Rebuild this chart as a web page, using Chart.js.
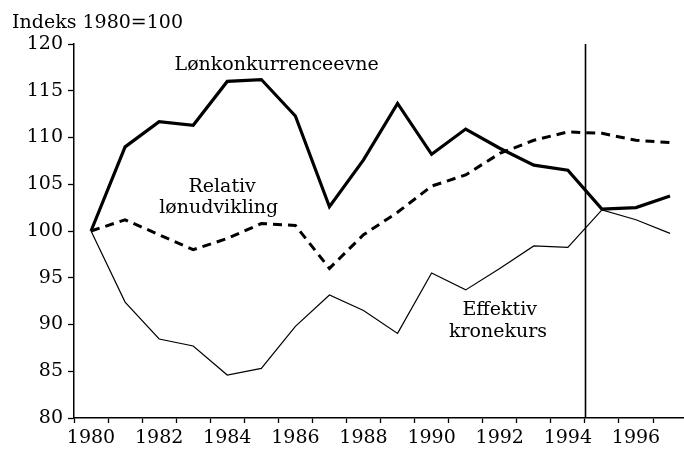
<!DOCTYPE html>
<html>
<head>
<meta charset="utf-8">
<script src="https://cdn.jsdelivr.net/npm/chart.js@4.4.1/dist/chart.umd.min.js"></script>
<style>
  html, body { margin: 0; padding: 0; background: #fff; }
  canvas { display: block; }
</style>
</head>
<body>
<canvas id="myChart" width="684" height="449"></canvas>
<script>
// years on the x axis
const years = [1980, 1981, 1982, 1983, 1984, 1985, 1986, 1987, 1988,
               1989, 1990, 1991, 1992, 1993, 1994, 1995, 1996, 1997];

// Lønkonkurrenceevne (thick line)
const lonkonkurrence = [100, 109.0, 111.7, 111.3, 116.0, 116.2, 112.3, 102.6, 107.6,
                        113.65, 108.2, 110.9, 108.85, 107.05, 106.5, 102.35, 102.5, 103.75];

// Relativ lønudvikling (dashed)
const relativLon = [100, 101.2, 99.6, 98.0, 99.2, 100.8, 100.6, 96.0, 99.6,
                    102.0, 104.8, 106.0, 108.3, 109.7, 110.6, 110.45, 109.7, 109.45];

// Effektiv kronekurs (thin line)
const effektivKurs = [100, 92.4, 88.45, 87.7, 84.6, 85.3, 89.8, 93.15, 91.5,
                      89.05, 95.5, 93.7, 96.0, 98.4, 98.25, 102.25, 101.2, 99.75];

// x tick labels (even years)
const xLabels = [1980, 1982, 1984, 1986, 1988, 1990, 1992, 1994, 1996];
const yTicks = [80, 85, 90, 95, 100, 105, 110, 115, 120];
const yTitle = 'Indeks 1980=100';
const markerYear = 1994.5;

// text labels placed in data space
const notes = [
  { text: 'Lønkonkurrenceevne', x: 1985.45, y: 117.2 },
  { text: 'Relativ', x: 1983.85, y: 104.15 },
  { text: 'lønudvikling', x: 1983.75, y: 101.9 },
  { text: 'Effektiv', x: 1992.0, y: 91.0 },
  { text: 'kronekurs', x: 1991.95, y: 88.65 }
];

const FONT = '"DejaVu Serif", serif';

const toXY = vals => years.map((yr, i) => ({ x: yr, y: vals[i] }));

// draws the y title, the vertical marker line and the series labels
const extras = {
  id: 'extras',
  beforeDraw(chart) {
    const c = chart.ctx;
    c.save();
    c.fillStyle = '#fff';
    c.fillRect(0, 0, chart.width, chart.height);
    c.restore();
  },
  afterDatasetsDraw(chart) {
    const c = chart.ctx;
    const xs = chart.scales.x, ys = chart.scales.y;
    c.save();
    // vertical line
    const vx = Math.round(xs.getPixelForValue(markerYear)) + 0.5;
    c.strokeStyle = '#000';
    c.lineWidth = 1.6;
    c.beginPath();
    c.moveTo(vx, ys.getPixelForValue(120));
    c.lineTo(vx, ys.getPixelForValue(80));
    c.stroke();

    c.fillStyle = '#000';
    c.font = '19px ' + FONT;
    c.textBaseline = 'alphabetic';
    c.textAlign = 'left';
    c.fillText(yTitle, 12, 28);

    c.textAlign = 'center';
    notes.forEach(n => {
      c.fillText(n.text, xs.getPixelForValue(n.x), ys.getPixelForValue(n.y));
    });
    c.restore();
  }
};

const ctx = document.getElementById('myChart').getContext('2d');
const myChart = new Chart(ctx, {
  type: 'line',
  data: {
    datasets: [
      {
        label: 'Lønkonkurrenceevne',
        data: toXY(lonkonkurrence),
        borderColor: '#000',
        borderWidth: 3.2,
        pointRadius: 0,
        tension: 0
      },
      {
        label: 'Relativ lønudvikling',
        data: toXY(relativLon),
        borderColor: '#000',
        borderWidth: 3,
        borderDash: [9, 6],
        pointRadius: 0,
        tension: 0
      },
      {
        label: 'Effektiv kronekurs',
        data: toXY(effektivKurs),
        borderColor: '#000',
        borderWidth: 1.2,
        pointRadius: 0,
        tension: 0
      }
    ]
  },
  options: {
    responsive: false,
    devicePixelRatio: 1,
    animation: false,
    layout: { padding: { top: 44, left: 0, right: 0, bottom: 0 } },
    plugins: { legend: { display: false }, tooltip: { enabled: false } },
    scales: {
      x: {
        type: 'linear',
        min: 1979.5,
        max: 1997.41,
        afterBuildTicks: scale => {
          const t = [];
          for (let v = 1979.5; v <= 1997.41; v += 0.5) t.push({ value: v });
          scale.ticks = t;
        },
        afterFit: scale => { scale.height = 31; },
        border: { color: '#000', width: 1.5 },
        grid: {
          drawOnChartArea: false,
          tickLength: 5,
          tickWidth: 1.3,
          tickColor: c => Number.isInteger(c.tick.value) ? 'rgba(0,0,0,0)' : '#000'
        },
        ticks: {
          autoSkip: false,
          maxRotation: 0,
          padding: 4,
          color: '#000',
          font: { family: FONT, size: 19 },
          callback: v => xLabels.includes(v) ? String(v) : ''
        }
      },
      y: {
        min: 80,
        max: 120,
        afterBuildTicks: scale => { scale.ticks = yTicks.map(v => ({ value: v })); },
        afterFit: scale => { scale.width = 74; },
        border: { color: '#000', width: 1.5 },
        grid: {
          drawOnChartArea: false,
          tickLength: 6,
          tickWidth: 1.3,
          tickColor: '#000'
        },
        ticks: {
          padding: 5,
          color: '#000',
          font: { family: FONT, size: 19 }
        }
      }
    }
  },
  plugins: [extras]
});
</script>
</body>
</html>
